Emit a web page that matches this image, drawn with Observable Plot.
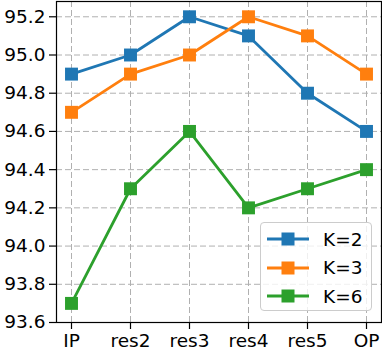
<!DOCTYPE html>
<html>
<head>
<meta charset="utf-8">
<script src="https://cdn.jsdelivr.net/npm/d3@7"></script>
<script src="https://cdn.jsdelivr.net/npm/@observablehq/plot@0.6"></script>
<style>
  html, body { margin: 0; padding: 0; background: #fff; }
  #wrap { position: relative; width: 382px; height: 355px; font-family: "DejaVu Sans", sans-serif; }
  #legend { position: absolute; left: 260px; top: 222px; width: 112px; height: 89px;
    border: 1px solid #cccccc; border-radius: 4px; background: rgba(255,255,255,0.8);
    box-sizing: border-box; font-size: 18.5px; color: #000; }
  .entry { position: absolute; left: 6px; height: 20px; display: flex; align-items: center; }
  .entry svg { margin-right: 14px; }
</style>
</head>
<body>
<div id="wrap"></div>
<script>
const categories = ["IP", "res2", "res3", "res4", "res5", "OP"];
const k2 = [94.9, 95.0, 95.2, 95.1, 94.8, 94.6];
const k3 = [94.7, 94.9, 95.0, 95.2, 95.1, 94.9];
const k6 = [93.7, 94.3, 94.6, 94.2, 94.3, 94.4];
const seriesNames = ["K=2", "K=3", "K=6"];
const seriesValues = [k2, k3, k6];
const colors = ["#1f77b4", "#ff7f0e", "#2ca02c"];
const yTicks = [93.6, 93.8, 94.0, 94.2, 94.4, 94.6, 94.8, 95.0, 95.2];

const rows = seriesNames.map((name, i) =>
  categories.map((c, j) => ({series: name, cat: c, value: seriesValues[i][j], color: colors[i]}))
);

const marks = [
  Plot.gridX(categories, {stroke: "#b0b0b0", strokeOpacity: 1, strokeDasharray: "6,3", strokeWidth: 1}),
  Plot.gridY(yTicks, {stroke: "#b0b0b0", strokeOpacity: 1, strokeDasharray: "6,3", strokeWidth: 1}),
];
rows.forEach((data, i) => {
  marks.push(Plot.line(data, {x: "cat", y: "value", stroke: colors[i], strokeWidth: 2.8}));
  marks.push(Plot.dot(data, {x: "cat", y: "value", symbol: "square", r: 7.3, fill: colors[i], stroke: null}));
});
marks.push(Plot.frame({stroke: "#000", strokeWidth: 1.2}));
marks.push(Plot.axisY(yTicks, {tickFormat: d3.format(".1f"), tickSize: 7, tickPadding: 4, fontSize: 18.5, strokeWidth: 1.2}));
marks.push(Plot.axisX(categories, {tickSize: 7, tickPadding: 4, fontSize: 18.5, strokeWidth: 1.2}));

const chart = Plot.plot({
  width: 382,
  height: 355,
  marginLeft: 56,
  marginRight: 1,
  marginTop: 1,
  marginBottom: 33,
  style: {fontFamily: "DejaVu Sans, sans-serif", fontSize: "18.5px", color: "#000", background: "#fff"},
  x: {type: "point", domain: categories, padding: 0.25, label: null},
  y: {domain: [93.6, 95.28], label: null},
  marks
});
const wrap = document.getElementById("wrap");
wrap.appendChild(chart);

const legend = document.createElement("div");
legend.id = "legend";
seriesNames.forEach((name, i) => {
  const e = document.createElement("div");
  e.className = "entry";
  e.style.top = (6 + i * 28.5) + "px";
  e.innerHTML = `<svg width="42" height="16"><line x1="0" y1="8" x2="42" y2="8" stroke="${colors[i]}" stroke-width="2.8"/><rect x="14.5" y="1.5" width="13" height="13" fill="${colors[i]}"/></svg><span>${name}</span>`;
  legend.appendChild(e);
});
wrap.appendChild(legend);
</script>
</body>
</html>
